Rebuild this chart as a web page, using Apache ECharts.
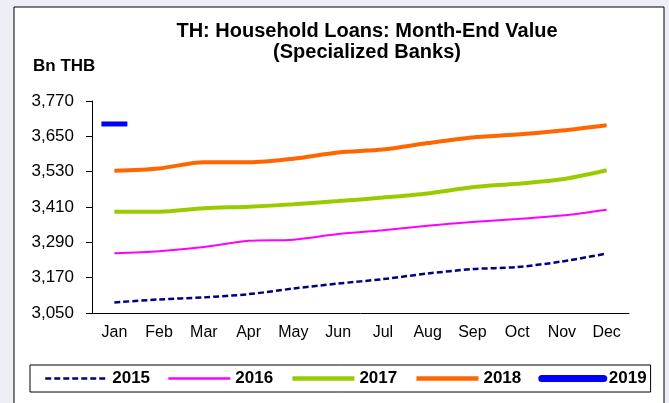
<!DOCTYPE html>
<html>
<head>
<meta charset="utf-8">
<script src="https://cdn.jsdelivr.net/npm/echarts@6/dist/echarts.min.js"></script>
<style>
  html, body { margin: 0; padding: 0; background: #eeeef7; }
  #main { width: 669px; height: 403px; }
</style>
</head>
<body>
<div id="main"></div>
<script>
// month categories
var months = ['Jan', 'Feb', 'Mar', 'Apr', 'May', 'Jun', 'Jul', 'Aug', 'Sep', 'Oct', 'Nov', 'Dec'];

// household loans, Bn THB
var s2015 = [3086, 3096, 3103, 3114, 3133, 3150, 3165, 3184, 3199, 3206, 3225, 3252];
var s2016 = [3253, 3260, 3274, 3295, 3299, 3318, 3331, 3346, 3359, 3369, 3381, 3401];
var s2017 = [3394, 3394, 3406, 3411, 3419, 3430, 3442, 3456, 3477, 3489, 3504, 3535];
var s2018 = [3533, 3541, 3562, 3562, 3574, 3595, 3605, 3627, 3646, 3656, 3670, 3688];
var s2019 = [3692];

// y axis ticks
var yMin = 3050;
var yMax = 3770;
var yStep = 120;

var font = 'Liberation Sans, Arial, Helvetica, sans-serif';

var myChart = echarts.init(document.getElementById('main'));

var option = {
    backgroundColor: '#eeeef7',
    animation: false,
    textStyle: { fontFamily: font },
    graphic: [
        {
            type: 'rect',
            z: -100,
            shape: { x: 14, y: 7, width: 650, height: 420 },
            style: { fill: '#fff', stroke: '#000', lineWidth: 1 }
        },
        {
            type: 'text',
            left: 33,
            top: 58,
            style: { text: 'Bn THB', font: 'bold 17px ' + font, fill: '#000' }
        }
    ],
    title: {
        text: 'TH: Household Loans: Month-End Value\n(Specialized Banks)',
        left: 362,
        top: 16,
        textAlign: 'center',
        textStyle: {
            fontFamily: font,
            fontSize: 20,
            fontWeight: 'bold',
            lineHeight: 21,
            color: '#000'
        }
    },
    legend: {
        left: 30,
        top: 365,
        width: 608,
        padding: [5, 4, 5, 14],
        borderColor: '#000',
        borderWidth: 1,
        itemWidth: 62,
        itemHeight: 8,
        itemGap: 17,
        itemStyle: { opacity: 0 },
        textStyle: { fontFamily: font, fontSize: 17, fontWeight: 'bold', color: '#000' },
        data: [
            { name: '2015', lineStyle: { width: 2.5 } },
            { name: '2016', lineStyle: { width: 2.5 } },
            { name: '2017', lineStyle: { width: 4.5 } },
            { name: '2018', lineStyle: { width: 4.5 } },
            { name: '2019', lineStyle: { width: 7, cap: 'round' } }
        ]
    },
    grid: {
        left: 92,
        right: 40,
        top: 101,
        bottom: 90
    },
    xAxis: {
        type: 'category',
        data: months,
        boundaryGap: true,
        axisLine: { lineStyle: { color: '#000', width: 1 } },
        axisTick: { length: 5, lineStyle: { color: '#000' } },
        axisLabel: { color: '#000', fontSize: 16, margin: 12, fontFamily: font }
    },
    yAxis: {
        type: 'value',
        min: yMin,
        max: yMax,
        interval: yStep,
        axisLine: { show: true, lineStyle: { color: '#000', width: 1 } },
        axisTick: { show: true, length: 6, lineStyle: { color: '#000' } },
        splitLine: { show: false },
        axisLabel: {
            color: '#000',
            fontSize: 17,
            margin: 18,
            fontFamily: font,
            formatter: function (v) { return echarts.format.addCommas(v); }
        }
    },
    series: [
        {
            name: '2015',
            type: 'line',
            data: s2015,
            symbol: 'none',
            smooth: 0.3,
            lineStyle: { color: '#000080', width: 2.5, type: [6, 3] },
            itemStyle: { color: '#000080' }
        },
        {
            name: '2016',
            type: 'line',
            data: s2016,
            symbol: 'none',
            smooth: 0.3,
            lineStyle: { color: '#ff00ff', width: 2 },
            itemStyle: { color: '#ff00ff' }
        },
        {
            name: '2017',
            type: 'line',
            data: s2017,
            symbol: 'none',
            smooth: 0.3,
            lineStyle: { color: '#99cc00', width: 4 },
            itemStyle: { color: '#99cc00' }
        },
        {
            name: '2018',
            type: 'line',
            data: s2018,
            symbol: 'none',
            smooth: 0.3,
            lineStyle: { color: '#ff6600', width: 4 },
            itemStyle: { color: '#ff6600' }
        },
        {
            name: '2019',
            type: 'line',
            data: s2019,
            symbol: 'rect',
            symbolSize: [26, 5],
            showSymbol: true,
            lineStyle: { color: '#0000ff', width: 6 },
            itemStyle: { color: '#0000ff' }
        }
    ]
};

myChart.setOption(option);
</script>
</body>
</html>
